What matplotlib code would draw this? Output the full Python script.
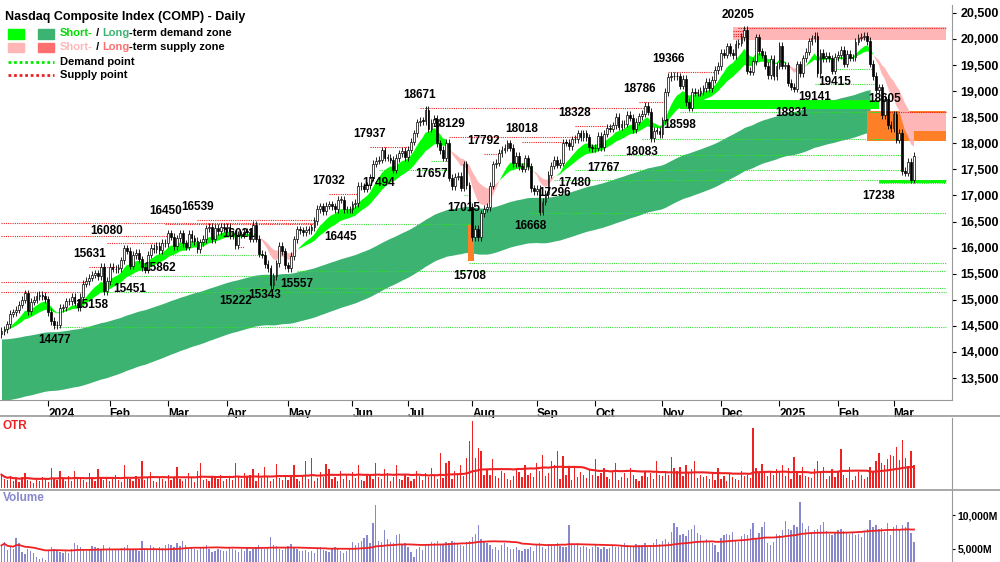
import numpy as np
import pandas as pd
import matplotlib
matplotlib.use("Agg")
import matplotlib.pyplot as plt
from matplotlib.patches import Rectangle

plt.rcParams['font.family'] = ['Liberation Sans', 'DejaVu Sans']

# daily closes, Dec 2023 - Mar 2025
closes = [
    14404, 14432, 14533, 14734, 14762, 14813, 14905, 15003, 15123, 14777, 14963, 15000, 15075, 15099, 15074, 15011,
    14766, 14592, 14510, 14524, 14843, 14857, 14970, 14970, 15055, 14944, 14855, 15056, 15311, 15361, 15426, 15481, 15510, 15455, 15628, 15164, 15361,
    15628, 15598, 15582, 15609, 15756, 15990, 15942, 15655, 15859, 15906, 15775, 15630, 15580, 15865, 15996, 15976, 16035, 15947, 16092, 16080,
    16274, 16207, 16031, 16178, 16273, 16085, 16019, 16265, 16178, 16129, 15973, 16103, 16166, 16370, 16401, 16166, 16385, 16316, 16399, 16379,
    16396, 16240, 16277, 16049, 16248, 16253, 16307, 16306, 16170, 16442, 16175, 15885, 15865, 15684, 15601, 15282, 15451, 15697, 16039, 15928, 15658,
    15605, 15840, 16156, 16349, 16332, 16302, 16346, 16340, 16389, 16511, 16743, 16795, 16698, 16801, 16832, 16794, 16737, 16920, 16920, 16735, 16737, 16735,
    16828, 16857, 17187, 17173, 17133, 17192, 17343, 17608, 17667, 17688, 17862, 17721, 17721, 17689, 17497, 17717, 17805, 17858, 17733,
    17879, 18028, 18188, 18403, 18430, 18429, 18647, 18283, 18398, 18472, 17996, 17871, 17726, 18007, 17342, 17181, 17357, 17370, 17147, 17599, 17194, 16776,
    16200, 16366, 16195, 16660, 16745, 16780, 17188, 17594, 17631, 17816, 17877, 17918, 17997, 17918, 17619, 17754, 17557, 17516, 17713, 17556, 17136, 17084,
    17127, 16690, 16884, 17025, 17395, 17573, 17683, 17592, 17628, 18014, 18013, 17948, 18075, 18082, 18190, 18119, 18189, 18116,
    17925, 17910, 17918, 18137, 17923, 18183, 18291, 18282, 18342, 18503, 18315, 18367, 18373, 18540, 18489, 18276, 18416, 18518, 18568, 18712, 18607, 18095, 18240,
    18239, 18179, 18439, 18983, 19269, 19287, 19298, 19281, 19107, 19230, 18791, 18680, 18987, 18967, 18972, 19003, 19054, 19175, 19060, 19218,
    19403, 19480, 19735, 19700, 19859, 19737, 19687, 19902, 19926, 20034, 20173, 19393, 19372, 19573, 20031, 19765, 19700, 19486, 19310, 19621,
    19280, 19490, 19864, 19489, 19492, 19161, 19088, 19044, 19511, 19338, 19631, 19757, 19954, 20009, 20053, 19342, 19733, 19632, 19682, 19627,
    19392, 19654, 19692, 19791, 19523, 19714, 19643, 19649, 19945, 20027, 20041, 20056, 19963, 19524, 19287, 19026, 19075, 18544, 18847,
    18350, 18285, 18553, 18069, 18196, 17468, 17436, 17648, 17303, 17754,
]

volume = [  # hundreds of millions
    55, 60, 48, 52, 50, 66, 58, 45, 42, 50, 47, 44, 38, 35, 36, 33,
    48, 52, 50, 47, 45, 44, 46, 43, 49, 58, 55, 52, 50, 47, 48, 54, 53, 51, 49, 56, 50,
    52, 50, 48, 49, 51, 53, 55, 50, 49, 48, 47, 62, 50, 49, 55, 53, 48, 52, 51, 56,
    57, 55, 53, 58, 54, 62, 55, 50, 52, 49, 48, 51, 53, 55, 50, 45, 47, 50, 48, 46,
    47, 52, 50, 48, 45, 49, 47, 51, 46, 50, 52, 55, 53, 49, 51, 68, 56, 54, 50, 48, 52,
    54, 57, 52, 49, 47, 46, 48, 45, 47, 44, 50, 52, 48, 46, 45, 49, 52, 50, 47, 44, 46, 51,
    60, 55, 58, 62, 66, 70, 59, 88, 115, 62, 60, 78, 65, 60, 58, 70, 72, 55, 58,
    52, 45, 38, 50, 53, 48, 55, 57, 60, 58, 62, 55, 56, 60, 58, 61, 60, 57, 55, 54, 60, 62,
    68, 72, 86, 64, 60, 58, 55, 50, 52, 48, 55, 58, 53, 50, 49, 52, 48, 47, 50, 49, 53, 47,
    55, 58, 52, 49, 57, 55, 56, 58, 54, 52, 53, 85, 55, 56, 58, 52, 54, 53, 50, 52,
    55, 53, 50, 52, 49, 51, 54, 53, 52, 56, 58, 55, 54, 52, 57, 56, 55, 58, 54, 56, 59, 65, 57,
    62, 65, 60, 75, 88, 82, 70, 72, 69, 78, 80, 85, 74, 70, 62, 65, 60, 58, 55, 45,
    66, 70, 72, 70, 75, 63, 60, 69, 72, 70, 80, 88, 66, 73, 82, 90, 58, 55, 60, 72,
    70, 78, 92, 80, 78, 85, 82, 120, 88, 80, 84, 75, 78, 80, 85, 90, 76, 72, 70, 73,
    78, 80, 77, 75, 72, 74, 70, 72, 68, 75, 80, 93, 82, 85, 79, 81, 75, 88, 70,
    83, 85, 80, 86, 82, 90, 73, 60, 62, 58,
]

otr = [
    20, 14, 12, 18, 10, 15, 9, 16, 22, 12, 10, 8, 14, 11, 17, 13,
    9, 30, 15, 12, 25, 14, 10, 18, 11, 26, 13, 16, 12, 9, 22, 14, 10, 28, 17, 12, 15,
    11, 14, 20, 12, 9, 35, 16, 13, 10, 18, 14, 40, 12, 15, 24, 11, 9, 16, 13, 10,
    19, 12, 15, 32, 14, 10, 13, 22, 16, 9, 25, 38, 12, 14, 11, 17, 15, 13, 20, 10,
    14, 18, 12, 37, 16, 13, 22, 17, 19, 28, 11, 23, 15, 31, 18, 10, 14, 36, 15, 12, 20,
    12, 16, 34, 14, 10, 18, 40, 13, 45, 11, 15, 24, 17, 36, 28, 13, 16, 11, 25, 14, 19, 12,
    24, 15, 34, 12, 10, 21, 19, 14, 38, 17, 13, 29, 22, 11, 16, 35, 14, 12, 19,
    16, 11, 14, 25, 18, 12, 22, 17, 30, 19, 14, 52, 15, 38, 41, 13, 26, 22, 35, 18, 45, 70,
    100, 45, 60, 55, 20, 28, 19, 44, 18, 15, 26, 22, 14, 12, 18, 30, 24, 16, 35, 20, 22, 17,
    38, 25, 50, 18, 22, 40, 35, 55, 14, 48, 20, 33, 12, 32, 16, 24, 20, 15, 28, 19,
    44, 18, 22, 30, 16, 14, 26, 38, 12, 17, 22, 15, 30, 20, 14, 11, 18, 25, 16, 22, 13, 40, 19,
    18, 25, 20, 46, 30, 26, 32, 18, 35, 22, 28, 40, 15, 20, 16, 18, 14, 23, 12, 30,
    13, 18, 10, 22, 16, 14, 12, 25, 18, 20, 15, 90, 30, 24, 36, 22, 18, 26, 20, 28,
    24, 35, 18, 30, 14, 46, 22, 20, 32, 18, 17, 15, 28, 40, 22, 32, 14, 18, 28, 16,
    26, 58, 20, 15, 32, 12, 18, 24, 20, 14, 16, 32, 26, 40, 52, 38, 35, 44, 50,
    48, 62, 42, 72, 45, 33, 56, 35, 40, 28,
]

n = min(len(closes), len(volume), len(otr))
closes = np.array(closes[:n], float)
volume = np.array(volume[:n], float) * 100  # millions
otr = np.array(otr[:n], float)

month_idx = [16, 37, 57, 77, 98, 120, 139, 161, 183, 203, 226, 246, 266, 286, 305]
month_lbl = ['2024', 'Feb', 'Mar', 'Apr', 'May', 'Jun', 'Jul', 'Aug', 'Sep', 'Oct',
             'Nov', 'Dec', '2025', 'Feb', 'Mar']

# swing labels: (index, price, text, side)
swings = [(18, 14477, '14477', 'below'), (31, 15158, '15158', 'below'), (30, 15631, '15631', 'above'),
          (36, 16080, '16080', 'above'), (44, 15451, '15451', 'below'), (54, 15862, '15862', 'below'),
          (56, 16450, '16450', 'above'), (67, 16539, '16539', 'above'), (81, 16021, '16021', 'above'),
          (80, 15222, '15222', 'below'), (90, 15343, '15343', 'below'), (101, 15557, '15557', 'below'),
          (116, 16445, '16445', 'below'), (112, 17032, '17032', 'above'), (129, 17494, '17494', 'below'),
          (126, 17937, '17937', 'above'), (143, 18671, '18671', 'above'), (153, 18129, '18129', 'above'),
          (147, 17657, '17657', 'below'), (165, 17792, '17792', 'above'), (158, 17015, '17015', 'below'),
          (160, 15708, '15708', 'below'), (178, 18018, '18018', 'above'), (196, 17480, '17480', 'below'),
          (189, 17296, '17296', 'below'), (181, 16668, '16668', 'below'), (196, 18328, '18328', 'above'),
          (206, 17767, '17767', 'below'), (218, 18786, '18786', 'above'), (219, 18083, '18083', 'below'),
          (232, 18598, '18598', 'below'), (228, 19366, '19366', 'above'), (252, 20205, '20205', 'above'),
          (270, 18831, '18831', 'below'), (278, 19141, '19141', 'below'), (285, 19415, '19415', 'below'),
          (302, 18605, '18605', 'above'), (300, 17238, '17238', 'below')]

supply_start = [(0, 16230), (0, 15340), (0, 15150), (0, 16480)]

opens = np.r_[closes[0] - 60, closes[:-1]]
highs = np.maximum(opens, closes) + 70
lows = np.minimum(opens, closes) - 70
x = np.arange(n)

fig = plt.figure(figsize=(10, 5.62), dpi=100)
ax = fig.add_axes([0, 1 - 400 / 562, 0.952, 395 / 562])
ax_o = fig.add_axes([0, 1 - 488 / 562, 0.952, 70 / 562])
ax_v = fig.add_axes([0, 0, 0.952, 72 / 562])

s = pd.Series(closes)
# long-term zone
lt_up = s.ewm(span=110, adjust=False).mean().values
lt_up = lt_up + (14250 - lt_up[0]) * np.exp(-x / 160)
lt_lo = lt_up - 780 - 400 * np.exp(-x / 120)
cut = 298
ax.fill_between(x[:cut], lt_lo[:cut], lt_up[:cut], color='#3cb371', lw=0, zorder=1)
# short-term zone
fast = s.ewm(span=10, adjust=False).mean().values
slow = s.ewm(span=22, adjust=False).mean().values
ax.fill_between(x, fast, slow, where=fast >= slow, color='#00ff00', lw=0, interpolate=True, zorder=2)
ax.fill_between(x, fast, slow, where=fast < slow, color='#ffb6b6', lw=0, interpolate=True, zorder=2)

# fixed zones
ax.add_patch(Rectangle((250, 19980), n + 10 - 250, 240, color='#ffb6b6', lw=0, zorder=1))
ax.add_patch(Rectangle((232, 18650), 300 - 232, 180, color='#00ff00', lw=0, zorder=2))
ax.add_patch(Rectangle((296, 18050), n + 10 - 296, 570, color='#ff7f27', lw=0, zorder=1))
ax.add_patch(Rectangle((310, 18230), n + 10 - 310, 350, color='#ffb6b6', lw=0, zorder=1))
ax.add_patch(Rectangle((300, 17238), n + 10 - 300, 60, color='#00ff00', lw=0, zorder=2))
ax.add_patch(Rectangle((159.5, 15750), 2, 700, color='#ff7f27', lw=0, zorder=2))

# demand / supply point lines
def level_line(i0, price, demand):
    end = n + 10
    for j in range(i0 + 2, n):
        if (demand and closes[j] < price) or (not demand and closes[j] > price):
            end = j
            break
    ax.plot([i0, end], [price, price], color='#33dd33' if demand else '#ee2222',
            ls=(0, (1, 1)), lw=0.8, zorder=3)

for i, p, t, side in swings:
    level_line(i, p, side == 'below')
for i, p in supply_start:
    level_line(i, p, False)
for p in (20050, 20100, 20150):
    level_line(250, p, False)

# candles
w = 0.6
for i in range(n):
    up = closes[i] >= opens[i]
    ax.vlines(i, lows[i], highs[i], color='black', lw=0.6, zorder=4)
    bot = min(opens[i], closes[i])
    hgt = max(abs(closes[i] - opens[i]), 8)
    ax.add_patch(Rectangle((i - w / 2, bot), w, hgt, facecolor='white' if up else 'black',
                           edgecolor='black', lw=0.5, zorder=5))

for i, p, t, side in swings:
    off = 5 if side == 'above' else -5
    ax.annotate(t, (i, p), xytext=(0, off), textcoords='offset points', ha='center',
                va='bottom' if side == 'above' else 'top', fontsize=8.5, fontweight='bold', zorder=6)

ax.set_xlim(-0.5, 325)
ax.set_ylim(13080, 20650)
ax.yaxis.tick_right()
yt = np.arange(13500, 20501, 500)
ax.set_yticks(yt)
ax.set_yticklabels([f'{v:,}' for v in yt], fontsize=9, fontweight='bold')
ax.set_xticks(month_idx)
ax.set_xticklabels(month_lbl, fontsize=8.5, fontweight='bold', ha='left')
ax.tick_params(axis='x', length=4, pad=2)
ax.tick_params(axis='y', length=3, pad=3)
for sp in ('top', 'left'):
    ax.spines[sp].set_visible(False)
ax.spines['bottom'].set_color('#999999')
ax.spines['right'].set_color('#999999')

ax.text(0.005, 0.985, 'Nasdaq Composite Index (COMP) - Daily', transform=ax.transAxes,
        fontsize=9, fontweight='bold', va='top')
lx, ly = 0.008, 0.94
ax.add_patch(Rectangle((lx, ly - 0.025), 0.017, 0.025, transform=ax.transAxes, color='#00ff00'))
ax.add_patch(Rectangle((lx + 0.032, ly - 0.025), 0.017, 0.025, transform=ax.transAxes, color='#3cb371'))
ax.add_patch(Rectangle((lx, ly - 0.06), 0.017, 0.025, transform=ax.transAxes, color='#ffb6b6'))
ax.add_patch(Rectangle((lx + 0.032, ly - 0.06), 0.017, 0.025, transform=ax.transAxes, color='#ff6f6f'))
ax.plot([lx, lx + 0.049], [ly - 0.085] * 2, transform=ax.transAxes, color='#00ee00', ls=(0, (1, 1)), lw=2)
ax.plot([lx, lx + 0.049], [ly - 0.118] * 2, transform=ax.transAxes, color='#ee2222', ls=(0, (1, 1)), lw=2)
tx = 0.063
def legend_row(y, parts):
    xx = tx
    for txt, col in parts:
        tt = ax.annotate(txt, (xx, y), xycoords='axes fraction', fontsize=8, fontweight='bold',
                         color=col, va='center')
        fig.canvas.draw()
        bb = tt.get_window_extent().transformed(ax.transAxes.inverted())
        xx = bb.x1
legend_row(ly - 0.012, [('Short-', '#00dd00'), (' / ', 'black'), ('Long', '#3cb371'), ('-term demand zone', 'black')])
legend_row(ly - 0.047, [('Short-', '#ffb6b6'), (' / ', 'black'), ('Long', '#ff6f6f'), ('-term supply zone', 'black')])
legend_row(ly - 0.085, [('Demand point', 'black')])
legend_row(ly - 0.118, [('Supply point', 'black')])

# OTR panel
ax_o.bar(x, otr, width=0.45, color='#ee2222')
ax_o.plot(x, pd.Series(otr).rolling(40, min_periods=1).mean(), color='#ee2222', lw=1.5)
ax_o.set_xlim(-0.5, 325)
ax_o.set_ylim(0, 105)
ax_o.set_xticks([])
ax_o.set_yticks([])
for sp in ('top', 'left', 'bottom'):
    ax_o.spines[sp].set_visible(False)
ax_o.spines['right'].set_color('#999999')
ax_o.text(0.003, 0.97, 'OTR', transform=ax_o.transAxes, color='#ee2222', fontsize=8.5,
          fontweight='bold', va='top')
fig.add_artist(plt.Line2D([0, 1], [1 - 416 / 562] * 2, color='#999999', lw=1.2))
fig.add_artist(plt.Line2D([0, 1], [1 - 490 / 562] * 2, color='#999999', lw=1.2))

# volume panel
ax_v.bar(x, volume - 3000, bottom=3000, width=0.45, color='#8888cc')
ax_v.plot(x, pd.Series(volume).rolling(50, min_periods=1).mean(), color='#ee2222', lw=1.3)
ax_v.set_xlim(-0.5, 325)
ax_v.set_ylim(3000, 13800)
ax_v.set_xticks([])
ax_v.yaxis.tick_right()
ax_v.set_yticks([5000, 10000])
ax_v.set_yticklabels(['5,000M', '10,000M'], fontsize=7.5, fontweight='bold')
ax_v.tick_params(axis='y', length=2, pad=2)
for sp in ('top', 'left', 'bottom'):
    ax_v.spines[sp].set_visible(False)
ax_v.spines['right'].set_color('#999999')
ax_v.text(0.003, 0.97, 'Volume', transform=ax_v.transAxes, color='#8888cc', fontsize=8.5,
          fontweight='bold', va='top')

fig.savefig('out.png', dpi=100)
